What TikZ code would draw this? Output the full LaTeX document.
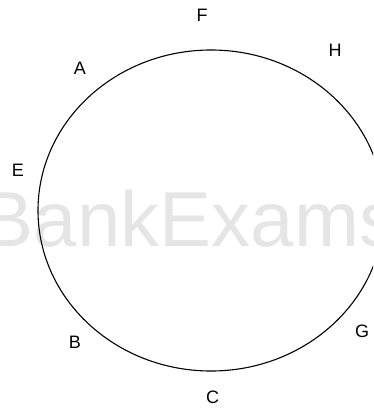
\documentclass[tikz,border=0pt]{standalone}
\usepackage{fontspec}
\setmainfont{Liberation Sans}
\usetikzlibrary{positioning}

\begin{document}
\begin{tikzpicture}[x=1pt, y=-1pt, lbl/.style={font=\fontsize{18}{18}\selectfont, inner sep=0pt}, wmark/.style={font=\fontsize{78}{78}\selectfont, text=black!10, inner sep=0pt}]
  \useasboundingbox (0,0) rectangle (373,409);
  \clip (0,0) rectangle (373,409);
  \node[wmark, anchor=base] (bank) at (190,246) {BankExams};
  \draw[line width=1.1pt] (211,210.5) ellipse [x radius=173pt, y radius=160.5pt];
  \node[lbl] (f) at (202,15) {F};
  \node[lbl] (h) at (335,50.5) {H};
  \node[lbl] (a) at (80,68.5) {A};
  \node[lbl] (e) at (18,170.5) {E};
  \node[lbl] (b) at (75,342) {B};
  \node[lbl] (c) at (212.5,397.5) {C};
  \node[lbl] (g) at (362,331.5) {G};
\end{tikzpicture}
\end{document}
